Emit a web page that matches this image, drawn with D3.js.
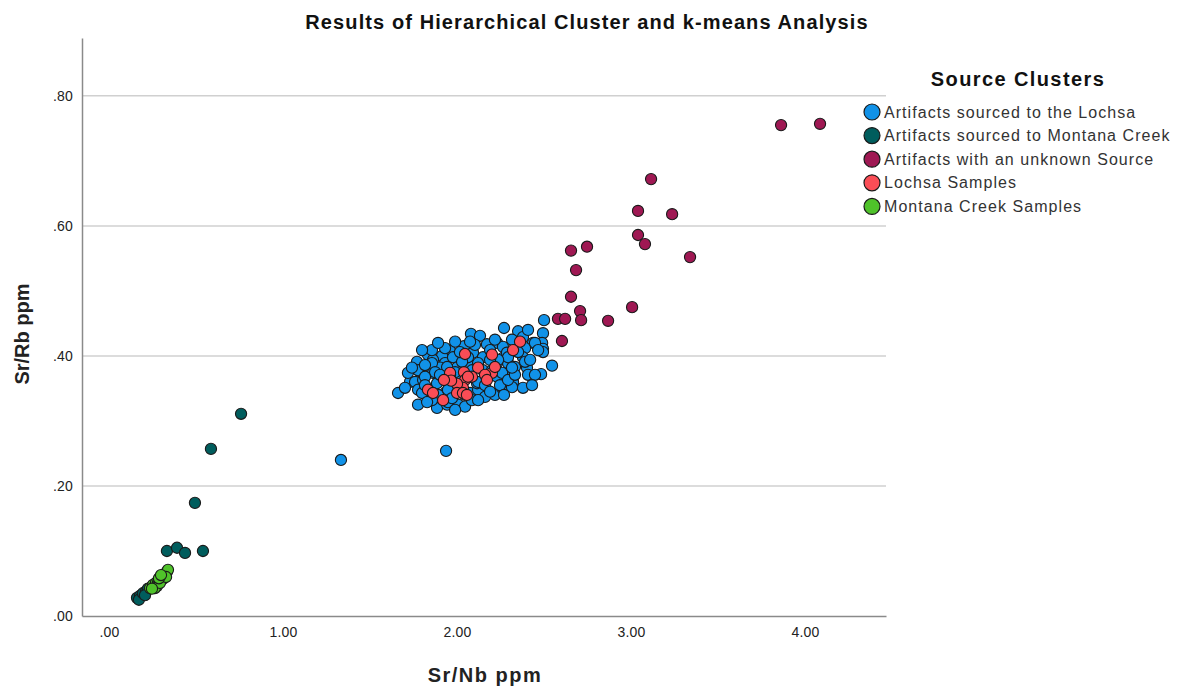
<!DOCTYPE html>
<html><head><meta charset="utf-8">
<script src="https://cdn.jsdelivr.net/npm/d3@7"></script>
<style>body{margin:0;background:#fff;font-family:"Liberation Sans",Arial,sans-serif;}</style>
</head><body><svg id="c" width="1178" height="689"></svg>
<script>
const seriesNames = ["Artifacts sourced to the Lochsa","Artifacts sourced to Montana Creek","Artifacts with an unknown Source","Lochsa Samples","Montana Creek Samples"];
const seriesColors = ["#1192e8","#005d5d","#9f1853","#fa4d56","#4fc22a"];
const xTicks = [0,1,2,3,4];
const yTicks = [0,0.2,0.4,0.6,0.8];

// [Sr/Nb, Sr/Rb]
const lochsaArtifacts = [
[2.500,0.455],[2.270,0.443],[2.351,0.438],[2.080,0.434],[2.132,0.431],[2.379,0.429],[2.494,0.435],[2.437,0.420],[2.489,0.420],[2.494,0.411],
[2.172,0.418],[2.230,0.420],[2.040,0.415],[1.960,0.408],[1.914,0.400],[1.833,0.402],[1.770,0.391],[1.862,0.394],[1.931,0.389],[2.092,0.405],
[2.149,0.398],[2.264,0.414],[2.264,0.397],[2.287,0.405],[2.391,0.412],[2.379,0.398],[2.402,0.382],[2.408,0.371],[2.546,0.385],[2.483,0.372],
[2.379,0.351],[1.782,0.377],[1.730,0.360],[1.759,0.360],[1.805,0.363],[1.862,0.374],[1.902,0.382],[1.661,0.343],[1.776,0.325],[1.885,0.320],
[1.943,0.325],[2.006,0.325],[2.046,0.322],[1.931,0.343],[2.075,0.343],[2.121,0.348],[2.161,0.337],[2.218,0.340],[2.259,0.351],[2.322,0.360],
[2.287,0.374],[2.230,0.368],[2.115,0.358],[2.075,0.368],[1.845,0.348],[1.885,0.358],[2.293,0.389],[2.230,0.389],[2.149,0.378],[2.075,0.386],
[2.000,0.382],[1.977,0.398],[1.943,0.363],[2.017,0.355],[2.448,0.420],[2.316,0.352],[2.247,0.355],[2.086,0.332],[2.293,0.398],[2.236,0.394],
[2.201,0.378],[2.259,0.374],[2.293,0.363],[2.121,0.360],[2.086,0.378],[2.333,0.383],[2.391,0.391],[2.121,0.389],[2.063,0.398],[2.494,0.406],
[1.856,0.389],[1.776,0.378],[1.874,0.375],[1.816,0.368],[1.776,0.348],[1.833,0.343],[1.891,0.340],[1.948,0.348],[2.006,0.366],[1.856,0.332],
[1.948,0.329],[1.943,0.383],[1.718,0.374],[1.799,0.343],[1.333,0.240],[1.937,0.254],
[1.989,0.375],[2.029,0.391],[2.103,0.417],[2.190,0.409],[2.161,0.355],[2.046,0.340],[1.971,0.335],[1.902,0.371],[1.816,0.386],[2.190,0.394],
[2.333,0.371],[2.351,0.406],[2.420,0.394],[2.466,0.409],[2.017,0.406],[1.931,0.412],[1.856,0.409],[1.741,0.382],[1.701,0.351],[1.828,0.329],
[1.989,0.317],[2.121,0.332],[2.190,0.345],[2.270,0.340],[2.316,0.382],[2.448,0.371],[2.431,0.355],[2.218,0.425],[2.316,0.425],[2.408,0.440],
[2.075,0.422],[1.989,0.422],[1.891,0.420],[1.799,0.409],[1.816,0.355],[1.960,0.371]
];
const montanaArtifacts = [
[0.759,0.311],[0.586,0.257],[0.494,0.174],[0.333,0.100],[0.391,0.105],[0.437,0.097],[0.540,0.100],
[0.161,0.028],[0.178,0.031],[0.172,0.025],[0.195,0.035],[0.213,0.038],[0.224,0.042],[0.247,0.045],[0.207,0.032]
];
const unknownArtifacts = [
[3.862,0.755],[4.086,0.757],[3.115,0.672],[3.040,0.623],[3.236,0.618],[3.040,0.586],[3.080,0.572],[3.339,0.552],[2.655,0.562],[2.747,0.568],
[2.684,0.532],[2.655,0.491],[3.006,0.475],[2.707,0.469],[2.713,0.455],[2.868,0.454],[2.580,0.457],[2.621,0.457],[2.603,0.423]
];
const lochsaSamples = [
[2.362,0.422],[2.322,0.409],[2.201,0.402],[2.046,0.403],[2.121,0.382],[2.201,0.374],[2.218,0.383],[2.161,0.371],[2.172,0.363],[2.086,0.368],
[2.040,0.375],[2.046,0.363],[2.034,0.351],[2.000,0.357],[2.000,0.343],[1.960,0.374],[1.966,0.362],[1.925,0.363],[1.833,0.348],[1.862,0.343],
[1.920,0.332],[2.034,0.343],[2.063,0.368],[2.057,0.340]
];
const montanaSamples = [
[0.236,0.043],[0.253,0.048],[0.270,0.051],[0.282,0.052],[0.293,0.055],[0.305,0.058],[0.316,0.062],[0.322,0.065],[0.333,0.068],[0.339,0.071],
[0.310,0.057],[0.276,0.046],[0.264,0.043],[0.293,0.051],[0.328,0.060],[0.247,0.042],[0.287,0.058],[0.299,0.063]
];
const seriesData = [lochsaArtifacts, montanaArtifacts, unknownArtifacts, lochsaSamples, montanaSamples];

const svg = d3.select("#c");
const x = d3.scaleLinear().domain([-0.155,4.465]).range([82,886]);
const y = d3.scaleLinear().domain([0,0.889]).range([616,38]);
const fmt = v => d3.format(".2f")(v).replace(/^0/,"");

// gridlines
svg.append("g").selectAll("line").data(yTicks.filter(d=>d>0)).join("line")
  .attr("x1",82).attr("x2",886).attr("y1",d=>y(d)).attr("y2",d=>y(d))
  .attr("stroke","#d0d0d0").attr("stroke-width",1.5);

// axes
const gy = svg.append("g").attr("transform","translate(82,0)")
  .call(d3.axisLeft(y).tickValues(yTicks).tickFormat(fmt).tickSize(0).tickPadding(9));
const gx = svg.append("g").attr("transform","translate(0,616)")
  .call(d3.axisBottom(x).tickValues(xTicks).tickFormat(fmt).tickSize(0).tickPadding(11));
[gx,gy].forEach(g=>{
  g.select(".domain").attr("stroke","#8a8a8a").attr("stroke-width",1.5);
  g.selectAll("text").attr("font-family","Liberation Sans, Arial, sans-serif").attr("font-size",14)
    .attr("letter-spacing","0.2px").attr("fill","#222");
});

// points
seriesData.forEach((data,i)=>{
  svg.append("g").selectAll("circle").data(data).join("circle")
    .attr("cx",d=>x(d[0])).attr("cy",d=>y(d[1])).attr("r",5.6)
    .attr("fill",seriesColors[i]).attr("stroke","#1a1a1a").attr("stroke-width",1.1);
});

// titles
svg.append("text").attr("x",587).attr("y",29).attr("text-anchor","middle")
  .attr("font-size",20).attr("letter-spacing","1.1px").attr("font-weight","bold").attr("fill","#111")
  .text("Results of Hierarchical Cluster and k-means Analysis");
svg.append("text").attr("x",485).attr("y",682).attr("text-anchor","middle")
  .attr("font-size",20).attr("letter-spacing","1.5px").attr("font-weight","bold").attr("fill","#222").text("Sr/Nb ppm");
svg.append("text").attr("transform","translate(29,334) rotate(-90)").attr("text-anchor","middle")
  .attr("font-size",20).attr("font-weight","bold").attr("fill","#222").text("Sr/Rb ppm");

// legend
const lg = svg.append("g");
lg.append("text").attr("x",1018).attr("y",86).attr("text-anchor","middle")
  .attr("font-size",20).attr("letter-spacing","1.4px").attr("font-weight","bold").attr("fill","#111").text("Source Clusters");
const items = lg.selectAll("g.it").data(seriesNames).join("g").attr("class","it")
  .attr("transform",(d,i)=>`translate(872,${112+i*23.6})`);
items.append("circle").attr("r",8).attr("fill",(d,i)=>seriesColors[i]).attr("stroke","#1a1a1a").attr("stroke-width",1.2);
items.append("text").attr("x",12).attr("y",5.5).attr("font-size",16).attr("letter-spacing","1.05px").attr("fill","#333").text(d=>d);
</script></body></html>
